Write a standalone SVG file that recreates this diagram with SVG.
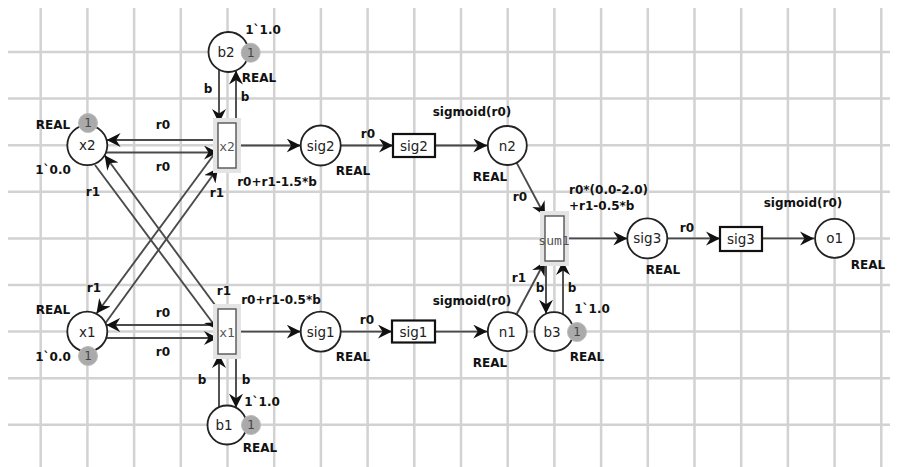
<svg xmlns="http://www.w3.org/2000/svg" width="898" height="467" viewBox="0 0 898 467">
<style>
.grid{stroke:#d2d2d2;stroke-width:2.5;fill:none}
.pl{fill:#fff;stroke:#222;stroke-width:1.8}
.tr{fill:#fff;stroke:#555;stroke-width:1.4}
.halo{fill:#e4e4e4;stroke:none}
.tb{fill:#fff;stroke:#111;stroke-width:2.2}
.arc{stroke:#4a4a4a;stroke-width:1.9;fill:none;marker-end:url(#ah)}
.tok{fill:#aaa;stroke:#bbb;stroke-width:1}
.nm{font-family:"DejaVu Sans",sans-serif;font-size:13.5px;fill:#222;text-anchor:middle;dominant-baseline:central}
.tn{font-family:"DejaVu Sans Mono",monospace;font-size:13px;fill:#555;text-anchor:middle;dominant-baseline:central}
.tt{font-family:"DejaVu Sans",sans-serif;font-size:12px;fill:#444;text-anchor:middle;dominant-baseline:central}
.lb{font-family:"DejaVu Sans",sans-serif;font-weight:bold;font-size:12px;fill:#111;text-anchor:middle;dominant-baseline:central}
.ls{font-family:"DejaVu Sans",sans-serif;font-weight:bold;font-size:12px;fill:#111;text-anchor:start;dominant-baseline:central}
</style>
<defs>
<marker id="ah" markerUnits="userSpaceOnUse" markerWidth="16" markerHeight="16" refX="14" refY="7" orient="auto">
<path d="M0,0 L14,7 L0,14 L4.5,7 Z" fill="#111"/>
</marker>
</defs>
<rect width="898" height="467" fill="#fff"/>
<g id="grid" class="grid">
<path d="M40.7,8V467M87.4,8V467M134.1,8V467M180.8,8V467M227.5,8V467M274.2,8V467M320.9,8V467M367.6,8V467M414.3,8V467M461,8V467M507.7,8V467M554.4,8V467M601.1,8V467M647.8,8V467M694.5,8V467M741.2,8V467M787.9,8V467M834.6,8V467M881.3,8V467"/>
<path d="M8,52H890M8,98.6H890M8,145.2H890M8,191.8H890M8,238.4H890M8,285H890M8,331.6H890M8,378.2H890M8,424.8H890"/>
</g>
<g id="connectors">
<line class="arc" x1="219" y1="69.6" x2="219" y2="123"/>
<line class="arc" x1="236" y1="123" x2="236" y2="70.5"/>
<line class="arc" x1="218" y1="140" x2="106.6" y2="140"/>
<line class="arc" x1="106.1" y1="152.5" x2="218" y2="152.5"/>
<line class="arc" x1="236" y1="145.5" x2="300.7" y2="145.5"/>
<line class="arc" x1="340.7" y1="145.5" x2="393" y2="145.5"/>
<line class="arc" x1="435" y1="145.5" x2="487.3" y2="145.5"/>
<line class="arc" x1="516.7" y1="162.9" x2="545" y2="216"/>
<line class="arc" x1="516.7" y1="314" x2="545" y2="261"/>
<line class="arc" x1="546" y1="261" x2="546" y2="313.8"/>
<line class="arc" x1="563" y1="314.3" x2="563" y2="261"/>
<line class="arc" x1="564" y1="238.4" x2="627.3" y2="238.4"/>
<line class="arc" x1="667.3" y1="238.4" x2="720" y2="238.4"/>
<line class="arc" x1="762" y1="238.4" x2="814" y2="238.4"/>
<line class="arc" x1="218" y1="325" x2="106.2" y2="325"/>
<line class="arc" x1="106.2" y1="338" x2="218" y2="338"/>
<line class="arc" x1="236" y1="331.6" x2="300.7" y2="331.6"/>
<line class="arc" x1="340.7" y1="331.6" x2="392" y2="331.6"/>
<line class="arc" x1="435" y1="331.6" x2="487.3" y2="331.6"/>
<line class="arc" x1="219" y1="407.2" x2="219" y2="354"/>
<line class="arc" x1="236" y1="354" x2="236" y2="407.7"/>
<line class="arc" x1="218" y1="309" x2="104.6" y2="155.3"/>
<line class="arc" x1="95" y1="165" x2="218" y2="330"/>
<line class="arc" x1="218" y1="149" x2="96.5" y2="313.5"/>
<line class="arc" x1="105.5" y1="323" x2="218" y2="168"/>
</g>
<g id="arc-labels">
<text class="lb" x="208" y="89">b</text>
<text class="lb" x="245" y="97">b</text>
<text class="lb" x="163" y="125">r0</text>
<text class="lb" x="163" y="167">r0</text>
<text class="lb" x="93" y="192">r1</text>
<text class="lb" x="217" y="193">r1</text>
<text class="lb" x="94" y="288">r1</text>
<text class="lb" x="224" y="291">r1</text>
<text class="lb" x="163" y="313">r0</text>
<text class="lb" x="163" y="352">r0</text>
<text class="lb" x="202" y="380">b</text>
<text class="lb" x="246" y="380">b</text>
<text class="lb" x="368" y="134">r0</text>
<text class="lb" x="367" y="320">r0</text>
<text class="lb" x="520" y="197">r0</text>
<text class="lb" x="519" y="278">r1</text>
<text class="lb" x="540" y="288">b</text>
<text class="lb" x="572" y="288">b</text>
<text class="lb" x="687" y="228">r0</text>
<text class="lb" x="472" y="112">sigmoid(r0)</text>
<text class="lb" x="472" y="301">sigmoid(r0)</text>
<text class="lb" x="803" y="203">sigmoid(r0)</text>
</g>
<g id="p-x2">
<circle class="pl" cx="87.3" cy="145.2" r="20"/>
<text class="nm" x="87.3" y="145.2">x2</text>
<circle class="tok" cx="88" cy="123" r="9.5"/>
<text class="tt" x="88" y="123">1</text>
<text class="lb" x="53" y="125">REAL</text>
<text class="lb" x="53" y="170">1`0.0</text>
</g>
<g id="p-x1">
<circle class="pl" cx="87.3" cy="331.6" r="20"/>
<text class="nm" x="87.3" y="331.6">x1</text>
<circle class="tok" cx="88" cy="356" r="9.5"/>
<text class="tt" x="88" y="356">1</text>
<text class="lb" x="53" y="310">REAL</text>
<text class="lb" x="53" y="357">1`0.0</text>
</g>
<g id="p-b2">
<circle class="pl" cx="228.5" cy="52" r="20"/>
<text class="nm" x="226" y="52">b2</text>
<circle class="tok" cx="250.7" cy="52.7" r="9.5"/>
<text class="tt" x="250.7" y="52.7">1</text>
<text class="lb" x="263" y="30">1`1.0</text>
<text class="lb" x="259" y="78">REAL</text>
</g>
<g id="p-b1">
<circle class="pl" cx="227" cy="425" r="19.5"/>
<text class="nm" x="224" y="425">b1</text>
<circle class="tok" cx="251" cy="425" r="9.5"/>
<text class="tt" x="251" y="425">1</text>
<text class="lb" x="262" y="402">1`1.0</text>
<text class="lb" x="260" y="448">REAL</text>
</g>
<g id="t-x2">
<rect class="halo" x="213" y="118" width="28" height="55"/>
<rect class="tr" x="218" y="123" width="18" height="45"/>
<text class="tn" x="227" y="146">x2</text>
<text class="lb" x="277" y="182">r0+r1-1.5*b</text>
</g>
<g id="t-x1">
<rect class="halo" x="213" y="304" width="28" height="55"/>
<rect class="tr" x="218" y="309" width="18" height="45"/>
<text class="tn" x="227" y="332">x1</text>
<text class="lb" x="281" y="300">r0+r1-0.5*b</text>
</g>
<g id="p-sig2">
<circle class="pl" cx="320.7" cy="145.5" r="20"/>
<text class="nm" x="320.7" y="145.5">sig2</text>
<text class="lb" x="353" y="171">REAL</text>
</g>
<g id="p-sig1">
<circle class="pl" cx="320.7" cy="331.6" r="20"/>
<text class="nm" x="320.7" y="331.6">sig1</text>
<text class="lb" x="353" y="357">REAL</text>
</g>
<g id="t-sig2">
<rect class="tb" x="393" y="134" width="42" height="23"/>
<text class="nm" x="414" y="145.5">sig2</text>
</g>
<g id="t-sig1">
<rect class="tb" x="392" y="320.5" width="43" height="22"/>
<text class="nm" x="413.5" y="331.6">sig1</text>
</g>
<g id="p-n2">
<circle class="pl" cx="507.3" cy="145.5" r="19.5"/>
<text class="nm" x="507.3" y="145.5">n2</text>
<text class="lb" x="490" y="177">REAL</text>
</g>
<g id="p-n1">
<circle class="pl" cx="507.3" cy="331.6" r="19.5"/>
<text class="nm" x="507.3" y="331.6">n1</text>
<text class="lb" x="490" y="363">REAL</text>
</g>
<g id="t-sum1">
<rect class="halo" x="540" y="211" width="29" height="55"/>
<rect class="tr" x="545" y="216" width="19" height="45"/>
<text class="tn" x="554" y="240">sum1</text>
<text class="ls" x="569" y="190">r0*(0.0-2.0)</text>
<text class="ls" x="569" y="206">+r1-0.5*b</text>
</g>
<g id="p-b3">
<circle class="pl" cx="554" cy="331.6" r="19.5"/>
<text class="nm" x="552" y="331.6">b3</text>
<circle class="tok" cx="577" cy="332" r="9.5"/>
<text class="tt" x="577" y="332">1</text>
<text class="lb" x="592" y="309">1`1.0</text>
<text class="lb" x="587" y="357">REAL</text>
</g>
<g id="p-sig3">
<circle class="pl" cx="647.3" cy="238.4" r="20"/>
<text class="nm" x="647.3" y="238.4">sig3</text>
<text class="lb" x="663" y="270">REAL</text>
</g>
<g id="t-sig3">
<rect class="tb" x="720" y="227" width="42" height="24"/>
<text class="nm" x="741" y="239">sig3</text>
</g>
<g id="p-o1">
<circle class="pl" cx="834.6" cy="238.4" r="19.5"/>
<text class="nm" x="834.6" y="238.4">o1</text>
<text class="lb" x="868" y="265">REAL</text>
</g>
</svg>
